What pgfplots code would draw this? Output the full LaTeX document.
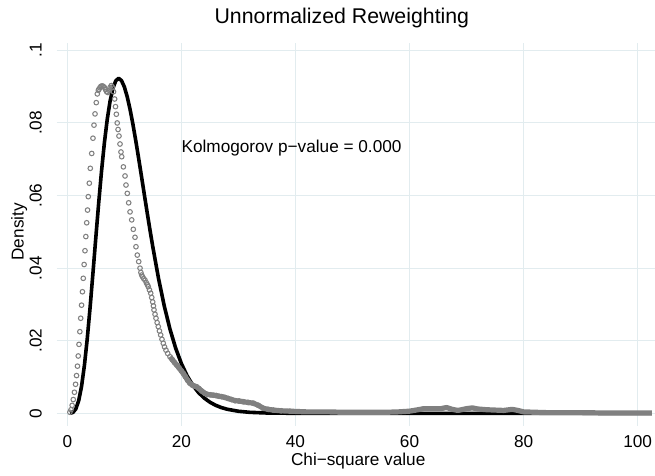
\documentclass[border=0pt]{standalone}
\usepackage{pgfplots}
\pgfplotsset{compat=1.18}
\usepackage{fontspec}
\setmainfont{Liberation Sans}
\definecolor{gridc}{RGB}{226,236,239}
\definecolor{mk}{RGB}{128,128,128}
\begin{document}
\fontsize{17.2}{20}\selectfont
\begin{tikzpicture}
\begin{axis}[
 name=ax, scale only axis, width=593.2pt, height=377.5pt,
 xmin=-1, xmax=103, ymin=-0.002, ymax=0.102,
 axis line style={draw=none},
 xtick={0,20,40,60,80,100},
 ytick={0,0.02,0.04,0.06,0.08,0.1},
 yticklabels={0,.02,.04,.06,.08,.1},
 tick pos=left,
 tick align=outside, major tick length=5pt,
 every tick/.style={gridc, line width=1pt},
 grid=major, major grid style={gridc, line width=1pt},
 /pgf/number format/assume math mode=true,
 tick label style={font=\fontsize{17.2}{20}\selectfont},
 xticklabel style={anchor=base, inner sep=0pt, yshift=-21.4pt},
 yticklabel style={anchor=base, inner sep=0pt, xshift=-14.9pt, rotate=90},
 title={Unnormalized Reweighting},
 title style={at={(axis description cs:0.4725,1.0366)}, anchor=base, inner sep=0pt, font=\fontsize{21.3}{25}\selectfont},
 xlabel={Chi−square value},
 xlabel style={at={(axis description cs:0.5,-0.1195)}, anchor=base, inner sep=0pt, font=\fontsize{17.2}{20}\selectfont},
 ylabel={Density},
 ylabel style={at={(axis description cs:-0.0642,0.5)}, anchor=base, inner sep=0pt, font=\fontsize{17.2}{20}\selectfont},
]
% theoretical chi-square(11) density
\addplot[black, line width=3.6pt, line join=round, no markers] coordinates {
(0.5,0.0000145)(1,0.000256)(1.5,0.001237)(2,0.003513)(2.5,0.007463)(3,0.013214)(3.5,0.020593)(4,0.029251)(4.5,0.038698)(5,0.048426)(5.5,0.057897)(6,0.066726)(6.5,0.074497)(7,0.080977)(7.5,0.086019)(8,0.089566)(8.5,0.091631)(9,0.092303)(9.5,0.091687)(10,0.089944)(10.5,0.087251)(11,0.083771)(11.5,0.079685)(12,0.075157)(12.5,0.070335)(13,0.065353)(13.5,0.060317)(14,0.055331)(14.5,0.050462)(15,0.045784)(16,0.037120)(17,0.029575)(18,0.023200)(19,0.017948)(20,0.013714)(21,0.010358)(22,0.007746)(23,0.005739)(24,0.004216)(25,0.003073)(26,0.002224)(27,0.001598)(28,0.001142)(30,0.000573)(32,0.000282)(35,0.0000942)(40,0.0000141)(50,0)(102.5,0)
};
% empirical density, tail band
\addplot[mk, line width=5.2pt, line join=round, no markers] coordinates {
(18.00,0.0156)(18.40,0.0148)(18.80,0.0140)(19.18,0.0133)(19.60,0.0125)(20.00,0.0117)(20.34,0.0110)(20.70,0.0101)(21.10,0.0091)(21.50,0.0083)(21.90,0.0078)(22.30,0.0075)(22.69,0.0073)(23.10,0.0068)(23.60,0.0061)(24.14,0.0055)(24.60,0.0052)(25.10,0.0051)(25.60,0.0050)(26.10,0.0049)(26.60,0.0047)(27.07,0.0046)(27.60,0.0044)(28.20,0.0041)(28.80,0.0038)(29.40,0.0035)(30.10,0.0034)(30.86,0.0032)(31.70,0.0030)(32.60,0.0028)(33.50,0.0022)(34.36,0.0014)(35.20,0.0011)(36.10,0.0009)(37.50,0.0007)(39.00,0.0006)(40.5,0.0005)(42,0.0004)(44,0.0004)(46,0.0004)(48,0.0003)(50,0.0003)(52,0.0003)(54,0.0003)(56,0.0003)(58,0.0004)(60,0.0006)(61.5,0.0010)(62.5,0.0013)(64,0.0013)(65.5,0.0013)(66.5,0.0016)(67.5,0.0011)(68.5,0.0008)(70,0.0013)(71,0.0015)(72,0.0012)(73.5,0.0010)(75,0.0009)(76.5,0.0008)(78,0.0011)(79,0.0008)(80,0.0004)(82,0.0003)(84,0.0002)(86,0.0002)(90,0.0002)(94,0.0001)(98,0.0001)(102.5,0.0001)
};
% empirical density, markers
\addplot[only marks, mark=o, mark size=2.3pt, mark options={mk, line width=1.05pt}] coordinates {
(0.45,0.0003)(0.65,0.0010)(0.85,0.0022)(1.05,0.0038)(1.25,0.0058)(1.45,0.0080)(1.62,0.0104)(1.78,0.0130)(1.92,0.0158)(2.05,0.0190)(2.20,0.0225)(2.35,0.0262)(2.50,0.0298)(2.65,0.0335)(2.80,0.0372)(2.95,0.0410)(3.10,0.0448)(3.25,0.0487)(3.40,0.0525)(3.55,0.0560)(3.68,0.0597)(3.86,0.0634)(4.03,0.0675)(4.28,0.0716)(4.50,0.0758)(4.68,0.0794)(4.86,0.0825)(5.08,0.0856)(5.26,0.0880)(5.45,0.0890)(5.56,0.0893)(5.70,0.0897)(5.90,0.0901)(6.10,0.0902)(6.30,0.0901)(6.50,0.0898)(6.70,0.0892)(6.90,0.0886)(7.10,0.0884)(7.30,0.0890)(7.50,0.0898)(7.70,0.0903)(7.90,0.0899)(8.10,0.0886)(8.30,0.0866)(8.45,0.0845)(8.60,0.0824)(8.75,0.0800)(8.90,0.0782)(9.06,0.0764)(9.24,0.0742)(9.41,0.0720)(9.54,0.0707)(9.83,0.0679)(10.12,0.0654)(10.29,0.0629)(10.52,0.0606)(10.76,0.0580)(11.00,0.0555)(11.29,0.0533)(11.57,0.0507)(11.87,0.0485)(12.04,0.0459)(12.27,0.0436)(12.52,0.0418)(12.75,0.0400)(12.90,0.0388)(13.04,0.0381)(13.20,0.0376)(13.40,0.0371)(13.62,0.0367)(13.85,0.0360)(14.05,0.0354)(14.20,0.0349)(14.40,0.0340)(14.62,0.0331)(14.80,0.0319)(14.97,0.0307)(15.10,0.0296)(15.20,0.0285)(15.38,0.0273)(15.55,0.0262)(15.75,0.0250)(15.95,0.0239)(16.15,0.0227)(16.37,0.0216)(16.60,0.0204)(16.83,0.0193)(17.05,0.0183)(17.30,0.0174)(17.60,0.0165)(18.00,0.0156)(18.40,0.0148)(18.80,0.0140)(19.18,0.0133)(19.60,0.0125)(20.00,0.0117)(20.34,0.0110)(20.70,0.0101)(21.10,0.0091)(21.50,0.0083)(21.90,0.0078)(22.30,0.0075)(22.69,0.0073)(23.10,0.0068)(23.60,0.0061)(24.14,0.0055)(24.60,0.0052)(25.10,0.0051)(25.60,0.0050)(26.10,0.0049)(26.60,0.0047)(27.07,0.0046)(27.60,0.0044)(28.20,0.0041)(28.80,0.0038)(29.40,0.0035)(30.10,0.0034)(30.86,0.0032)(31.70,0.0030)(32.60,0.0028)(33.50,0.0022)(34.36,0.0014)(35.20,0.0011)(36.10,0.0009)(37.50,0.0007)(39.00,0.0006)
};
\node[anchor=base west, inner sep=0pt, font=\fontsize{17.2}{20}\selectfont] at (axis cs:20,0.0718) {Kolmogorov p−value = 0.000};
\end{axis}
\pgfresetboundingbox
\path[use as bounding box] ([xshift=-61.6pt,yshift=-54.4pt]ax.south west) rectangle ([xshift=0.2pt,yshift=43.1pt]ax.north east);
\end{tikzpicture}
\end{document}
